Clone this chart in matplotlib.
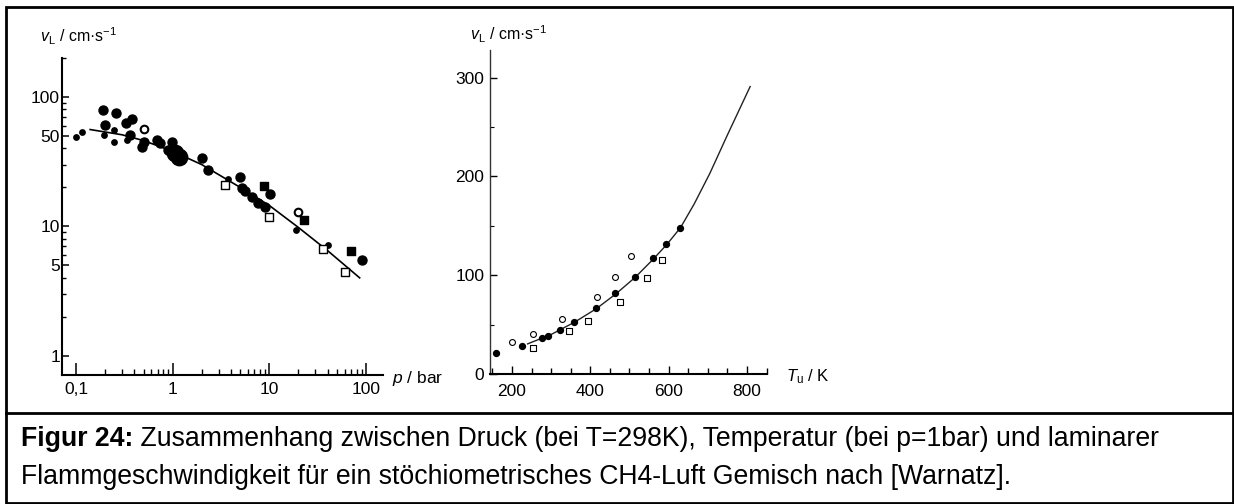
import matplotlib
matplotlib.use('Agg')
import matplotlib.pyplot as plt
from matplotlib.lines import Line2D
from matplotlib.patches import Rectangle

plt.rcParams['font.family'] = ['Liberation Sans', 'DejaVu Sans']
plt.rcParams['mathtext.fontset'] = 'custom'
plt.rcParams['mathtext.rm'] = 'Liberation Sans'
plt.rcParams['mathtext.it'] = 'Liberation Sans:italic'

# ---------------- data: left panel (pressure, log-log) ----------------
p_ticks = [0.1, 1, 10, 100]
p_ticklabels = ['0,1', '1', '10', '100']
vL_ticks = [1, 5, 10, 50, 100]
vL_ticklabels = ['1', '5', '10', '50', '100']

p_curve = [0.14, 0.3, 0.5, 1, 2, 5, 10, 20, 40, 86]
v_curve_p = [56, 51, 46, 38, 30, 20, 14.5, 9.8, 6.5, 4.0]

p_big = [0.192, 0.257, 0.2, 0.327, 0.377, 0.478, 0.683, 0.74, 0.9, 2.34, 5.0,
         5.58, 6.55, 7.7, 10.1, 9.0, 90, 0.362, 0.51, 0.976, 2.0, 5.17]
v_big = [79, 75.5, 60.7, 62.6, 67.4, 41.4, 46.6, 44, 39, 27.3, 24,
         18.6, 17, 15.1, 17.8, 14.2, 5.5, 50.7, 44.5, 45, 33.6, 19.7]
p_small = [0.099, 0.115, 0.197, 0.247, 0.249, 0.335, 19.1, 40, 3.7]
v_small = [48.8, 53.5, 50.7, 45, 55.7, 46.6, 9.3, 7.2, 23.1]
p_huge = [1.06, 1.15]
v_huge = [36.7, 34.5]
p_osq = [3.47, 9.9, 35.5, 60.3]
v_osq = [20.9, 11.9, 6.67, 4.47]
p_fsq = [8.87, 23, 69.9]
v_fsq = [20.5, 11.2, 6.5]
p_ocirc = [0.51, 19.9]
v_ocirc = [56.3, 13]

# ---------------- data: right panel (temperature, linear) ----------------
T_ticks = [200, 400, 600, 800]
v_ticks = [0, 100, 200, 300]

T_curve = [240, 300, 360, 415, 465, 515, 560, 595, 630, 665, 705, 750, 808]
v_curve_T = [30.5, 40, 52.5, 66, 81, 98, 116, 131, 148, 172, 203, 242, 291]

T_filled = [160, 225, 276, 293, 323, 359, 414, 464, 515, 561, 593, 629]
v_filled = [21.6, 28.7, 36, 38.8, 44.9, 52.7, 66.5, 82, 98.3, 117, 132, 148]
T_open = [200, 253, 329, 417, 463, 504]
v_open = [32, 40, 55.4, 78, 98, 119]
T_square = [255, 346, 395, 477, 544, 582]
v_square = [26.6, 43.6, 54, 73, 97, 115.5]

caption_bold = 'Figur 24:'
caption_rest = (' Zusammenhang zwischen Druck (bei T=298K), Temperatur (bei p=1bar) '
                'und laminarer')
caption_line2 = ('Flammgeschwindigkeit für ein stöchiometrisches CH4-Luft Gemisch '
                 'nach [Warnatz].')

# ---------------- figure ----------------
W, H = 1234, 504
fig = plt.figure(figsize=(W / 100, H / 100), dpi=100)
fig.patch.set_facecolor('white')


def px_rect(x0, y0, x1, y1):
    return [x0 / W, 1 - y1 / H, (x1 - x0) / W, (y1 - y0) / H]


def fx(x):
    return x / W


def fy(y):
    return 1 - y / H


def style_axes(ax):
    for s in ('top', 'right'):
        ax.spines[s].set_visible(False)
    for s in ('left', 'bottom'):
        ax.spines[s].set_linewidth(1.5)
        ax.spines[s].set_color('black')
    ax.set_facecolor('none')


# ---- left panel ----
ax1 = fig.add_axes(px_rect(62, 58, 383, 375))
style_axes(ax1)
ax1.set_xscale('log')
ax1.set_yscale('log')
ax1.set_xlim(0.0716, 150)
ax1.set_ylim(0.71, 200)

ax1.plot(p_curve, v_curve_p, color='black', lw=1.2, zorder=2)
ax1.scatter(p_big, v_big, s=42, color='black', zorder=3)
ax1.scatter(p_small, v_small, s=15, color='black', zorder=3)
ax1.scatter(p_huge, v_huge, s=140, color='black', zorder=3)
ax1.scatter(p_osq, v_osq, s=30, marker='s', facecolor='white',
            edgecolor='black', linewidth=1.0, zorder=4)
ax1.scatter(p_fsq, v_fsq, s=34, marker='s', color='black', zorder=3)
ax1.scatter(p_ocirc, v_ocirc, s=30, marker='o', facecolor='white',
            edgecolor='black', linewidth=1.5, zorder=4)

ax1.set_xticks(p_ticks)
ax1.set_xticklabels(p_ticklabels)
ax1.set_xticks([m * d for d in (0.1, 1, 10) for m in range(2, 10)], minor=True)
ax1.set_yticks(vL_ticks)
ax1.set_yticklabels(vL_ticklabels)
ax1.set_yticks([m * d for d in (1, 10) for m in (2, 3, 4, 6, 7, 8, 9)] + [200],
               minor=True)
ax1.xaxis.set_minor_formatter(plt.NullFormatter())
ax1.yaxis.set_minor_formatter(plt.NullFormatter())
ax1.tick_params(axis='x', which='major', direction='in', length=9, width=1.1,
                pad=5, labelsize=12.5)
ax1.tick_params(axis='x', which='minor', direction='in', length=4, width=1.0)
ax1.tick_params(axis='y', which='major', direction='in', length=5, width=1.1,
                pad=1.5, labelsize=12.5)
ax1.tick_params(axis='y', which='minor', direction='in', length=3, width=1.0)

# ---- right panel ----
ax2 = fig.add_axes(px_rect(490, 50, 767, 374))
style_axes(ax2)
ax2.spines['left'].set_linewidth(1.0)
ax2.spines['left'].set_color('#333333')
ax2.set_xlim(144, 851)
ax2.set_ylim(0, 328)

ax2.plot(T_curve, v_curve_T, color='#222222', lw=1.0, zorder=2)
ax2.scatter(T_filled, v_filled, s=18, color='black', zorder=3)
ax2.scatter(T_open, v_open, s=18, facecolor='white', edgecolor='black',
            linewidth=0.8, zorder=3)
ax2.scatter(T_square, v_square, s=18, marker='s', facecolor='white',
            edgecolor='black', linewidth=0.8, zorder=3)

ax2.set_xticks(T_ticks)
ax2.set_xticks([t for t in range(150, 851, 50) if t not in T_ticks], minor=True)
ax2.set_yticks(v_ticks)
ax2.set_yticks([50, 150, 250], minor=True)
ax2.xaxis.set_minor_formatter(plt.NullFormatter())
ax2.tick_params(axis='x', which='major', direction='in', length=6, width=1.0,
                pad=7, labelsize=12.5)
ax2.tick_params(axis='x', which='minor', direction='in', length=4, width=1.0)
ax2.tick_params(axis='y', which='major', direction='in', length=5, width=1.0,
                pad=4, labelsize=12.5)
ax2.tick_params(axis='y', which='minor', direction='in', length=3, width=0.8)

# axis labels
ylab = r'$v_{\mathrm{L}}$ / cm·s$^{-1}$'
fig.text(fx(40), fy(36), ylab, ha='left', va='center', fontsize=11.5)
fig.text(fx(470), fy(34), ylab, ha='left', va='center', fontsize=11.5)
fig.text(fx(392), fy(378), r'$p$ / bar', ha='left', va='center', fontsize=12.5)
fig.text(fx(786), fy(377), r'$T_{\mathrm{u}}$ / K', ha='left', va='center',
         fontsize=12)

# frame and separator
fig.add_artist(Rectangle((fx(6), fy(503)), fx(1233) - fx(6), fy(7) - fy(503),
                         transform=fig.transFigure, fill=False,
                         edgecolor='black', linewidth=2.0))
fig.add_artist(Line2D([fx(6), fx(1233)], [fy(413), fy(413)],
                      transform=fig.transFigure, color='black', linewidth=2.0))

# caption, fitted to the measured line width
renderer = fig.canvas.get_renderer()
fs = 17.0
tb = fig.text(fx(21), fy(446), caption_bold, fontsize=fs, fontweight='bold',
              ha='left', va='baseline')
tr = fig.text(0, fy(446), caption_rest, fontsize=fs, ha='left', va='baseline')
wb = tb.get_window_extent(renderer).width
wr = tr.get_window_extent(renderer).width
target = 1162 - 21
fs = fs * target / (wb + wr)
tb.set_fontsize(fs)
tr.set_fontsize(fs)
wb = tb.get_window_extent(renderer).width
tr.set_x(fx(21 + wb))
fig.text(fx(21), fy(484), caption_line2, fontsize=fs, ha='left', va='baseline')

fig.savefig('out.png', dpi=100, facecolor='white')
